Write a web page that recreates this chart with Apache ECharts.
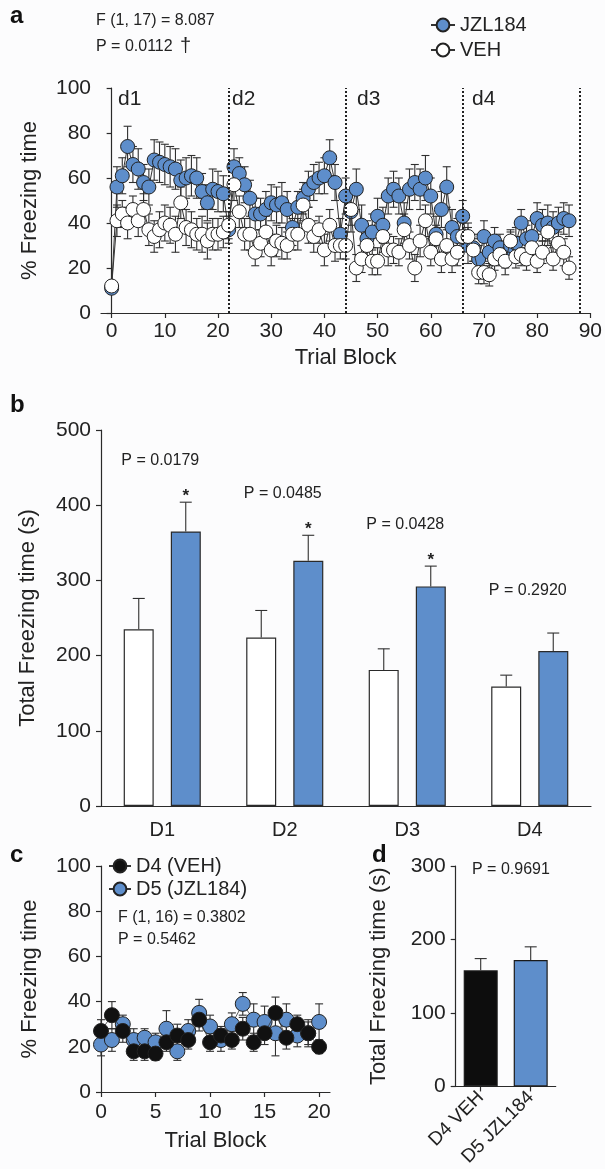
<!DOCTYPE html>
<html><head><meta charset="utf-8">
<script src="https://cdn.jsdelivr.net/npm/echarts@6/dist/echarts.min.js"></script>
<style>html,body{margin:0;padding:0;background:#fcfcfd}#chart{width:605px;height:1169px}</style>
</head><body><div id="chart"></div>
<script>
// ---------- Panel a: % freezing per trial block (t = 0..86) ----------
const aTicks = [0,10,20,30,40,50,60,70,80,90];
const dayBounds = [22,44,66,88];
const jzl = [
  11,
  56,61,74,66,64,58,56,68,67,66,65,64,59,60,61,60,54,49,55,54,53,
  37,
  65,62,57,51,44,44,46,49,48,49,46,38,47,51,55,58,60,61,69,58,35,
  52,45,55,39,33,36,43,39,52,55,52,40,55,58,55,60,52,35,46,56,38,34,
  43,30,29,24,34,27,32,29,26,30,31,40,33,34,42,39,40,38,40,42,41
];
const jzlErr = [
  2,
  9,8,9,8,9,8,8,9,9,9,9,9,9,9,9,9,8,8,9,9,8,
  6,
  8,7,8,8,7,7,8,8,8,9,8,8,7,7,8,8,7,8,8,8,7,
  8,9,9,9,8,8,8,8,8,8,8,9,9,8,9,10,8,8,8,9,8,8,
  7,8,6,6,7,6,6,6,6,6,7,6,6,7,7,7,8,7,7,7,7
];
const veh = [
  12,
  41,44,40,46,41,46,37,34,37,40,39,35,49,38,37,35,35,32,35,35,36,
  39,
  57,45,35,35,27,31,36,28,32,31,30,35,35,48,39,34,37,28,39,30,30,
  30,46,20,24,30,23,23,34,28,28,27,37,30,20,32,41,27,33,24,30,24,27,
  34,34,28,18,18,17,24,26,23,32,25,26,24,29,23,27,36,24,31,27,20
];
const vehErr = [
  2,
  7,6,7,6,7,7,7,7,8,8,8,8,7,8,8,7,8,8,7,7,7,
  6,
  7,7,7,7,6,6,7,7,7,7,6,7,7,7,8,7,6,7,7,7,6,
  6,7,6,6,7,6,6,7,7,6,6,7,6,6,7,7,6,6,6,7,6,6,
  6,6,5,5,5,5,5,5,6,5,5,5,5,6,5,5,6,5,5,6,5
];
const dayLabels = ['d1','d2','d3','d4'];

// ---------- Panel b: total freezing per day ----------
const days = ['D1','D2','D3','D4'];
const vehTotal = [235,224,181,159];
const vehTotalErr = [41,36,28,15];
const jzlTotal = [365,326,292,206];
const jzlTotalErr = [39,34,27,24];
const pLabels = ['P = 0.0179','P = 0.0485','P = 0.0428','P = 0.2920'];
const significant = [true,true,true,false];

// ---------- Panel c: D4 (VEH) vs D5 (JZL184) ----------
const cTicks = [0,5,10,15,20];
const d4veh = [27,34,27,18,18,17,22,25,23,32,22,25,23,28,22,26,35,24,30,26,20];
const d4vehErr = [5,6,5,4,4,3,4,5,4,5,4,4,4,5,4,5,7,5,4,5,3];
const d5jzl = [21,23,30,23,24,22,28,18,27,35,29,23,30,39,32,31,26,32,25,26,31];
const d5jzlErr = [5,5,4,5,4,4,8,4,5,6,5,5,5,5,7,7,10,7,5,6,8];

// ---------- Panel d ----------
const dCats = ['D4 VEH','D5 JZL184'];
const dTotal = [158,172];
const dTotalErr = [16,18];

// ---------- styling ----------
const FONT = '"Liberation Sans", Arial, Helvetica, sans-serif';
const BLUE = '#5e8ecb';
const INK = '#2a2a2a';
const TICK_FS = 21, NAME_FS = 22;

const chart = echarts.init(document.getElementById('chart'), null, {renderer:'canvas'});

function axisLineCfg(){ return {show:true, lineStyle:{color:INK, width:1.2}}; }
function tickCfg(extra){ return Object.assign({show:true, length:5, lineStyle:{color:INK, width:1.2}}, extra||{}); }
function labelCfg(extra){ return Object.assign({color:'#222', fontSize:TICK_FS, fontFamily:FONT}, extra||{}); }
function nameCfg(){ return {color:'#222', fontSize:NAME_FS, fontFamily:FONT}; }

function errRender(capHalf, both, dx){
  return function(params, api){
    const x = api.value(0), y = api.value(1), e = api.value(2);
    const p = api.coord([x, y]);
    const hi = api.coord([x, y + e]);
    const lo = api.coord([x, y - e]);
    const cx = p[0] + (dx || 0);
    const style = {stroke:'#303030', lineWidth:1.1};
    const ch = [
      {type:'line', shape:{x1:cx, y1: both ? lo[1] : p[1], x2:cx, y2:hi[1]}, style},
      {type:'line', shape:{x1:cx-capHalf, y1:hi[1], x2:cx+capHalf, y2:hi[1]}, style}
    ];
    if (both) ch.push({type:'line', shape:{x1:cx-capHalf, y1:lo[1], x2:cx+capHalf, y2:lo[1]}, style});
    return {type:'group', children: ch};
  };
}

const pointStyle = (fill) => ({color:fill, borderColor:'#222', borderWidth:1});
const lineStyle = {color:'#333', width:1};
const BAR_OFF = 23.5;

const option = {
  backgroundColor:'#fcfcfd',
  animation:false,
  textStyle:{fontFamily:FONT},
  grid:[
    {left:101, top:88, width:490.5, height:225},
    {left:101, top:430, width:490, height:376},
    {left:101, top:866, width:229, height:226},
    {left:455.7, top:866, width:100, height:226}
  ],
  xAxis:[
    {gridIndex:0, type:'value', min:-2, max:90,
     axisLine:axisLineCfg(), splitLine:{show:false},
     axisTick:tickCfg({customValues:aTicks}),
     axisLabel:labelCfg({customValues:aTicks, margin:8}),
     name:'Trial Block', nameLocation:'middle', nameGap:34, nameTextStyle:nameCfg()},
    {gridIndex:1, type:'category', data:days,
     axisLine:axisLineCfg(), axisTick:{show:false},
     axisLabel:labelCfg({margin:14, fontSize:20})},
    {gridIndex:2, type:'value', min:0, max:21,
     axisLine:axisLineCfg(), splitLine:{show:false},
     axisTick:tickCfg({customValues:cTicks}),
     axisLabel:labelCfg({customValues:cTicks, margin:10}),
     name:'Trial Block', nameLocation:'middle', nameGap:38, nameTextStyle:nameCfg()},
    {gridIndex:3, type:'category', data:dCats,
     axisLine:axisLineCfg(), axisTick:tickCfg({alignWithLabel:true}),
     axisLabel:labelCfg({rotate:45, margin:8, fontSize:19})}
  ],
  yAxis:[
    {gridIndex:0, type:'value', min:0, max:100, interval:20,
     axisLine:axisLineCfg(), axisTick:tickCfg(), splitLine:{show:false},
     axisLabel:labelCfg({margin:10}),
     name:'% Freezing time', nameLocation:'middle', nameGap:60, nameTextStyle:nameCfg()},
    {gridIndex:1, type:'value', min:0, max:500, interval:100,
     axisLine:axisLineCfg(), axisTick:tickCfg(), splitLine:{show:false},
     axisLabel:labelCfg({margin:10}),
     name:'Total Freezing time (s)', nameLocation:'middle', nameGap:62, nameTextStyle:nameCfg()},
    {gridIndex:2, type:'value', min:0, max:100, interval:20,
     axisLine:axisLineCfg(), axisTick:tickCfg(), splitLine:{show:false},
     axisLabel:labelCfg({margin:10}),
     name:'% Freezing time', nameLocation:'middle', nameGap:60, nameTextStyle:nameCfg()},
    {gridIndex:3, type:'value', min:0, max:300, interval:100,
     axisLine:axisLineCfg(), axisTick:tickCfg(), splitLine:{show:false},
     axisLabel:labelCfg({margin:10}),
     name:'Total Freezing time (s)', nameLocation:'middle', nameGap:66, nameTextStyle:nameCfg()}
  ],
  legend:[
    {data:['JZL184'], left:425, top:10, itemWidth:24, itemHeight:16, itemGap:0,
     textStyle:{fontSize:20, color:'#222', fontFamily:FONT}},
    {data:['VEH'], left:425, top:35, itemWidth:24, itemHeight:16, itemGap:0,
     textStyle:{fontSize:20, color:'#222', fontFamily:FONT}},
    {data:['D4 (VEH)'], left:103, top:851, itemWidth:22, itemHeight:16, itemGap:0,
     textStyle:{fontSize:20, color:'#222', fontFamily:FONT}},
    {data:['D5 (JZL184)'], left:103, top:874, itemWidth:22, itemHeight:16, itemGap:0,
     textStyle:{fontSize:20, color:'#222', fontFamily:FONT}}
  ],
  graphic:[
    {type:'text', left:10, top:4, style:{text:'a', font:'bold 24px '+FONT, fill:'#111'}},
    {type:'text', left:10, top:393, style:{text:'b', font:'bold 24px '+FONT, fill:'#111'}},
    {type:'text', left:10, top:843, style:{text:'c', font:'bold 24px '+FONT, fill:'#111'}},
    {type:'text', left:372, top:843, style:{text:'d', font:'bold 24px '+FONT, fill:'#111'}},
    {type:'text', left:96, top:13, style:{text:'F (1, 17) = 8.087', font:'16px '+FONT, fill:'#222'}},
    {type:'text', left:96, top:39, style:{text:'P = 0.0112', font:'16px '+FONT, fill:'#222'}},
    {type:'text', left:180, top:36, style:{text:'\u2020', font:'20px '+FONT, fill:'#222'}},
    {type:'text', left:118, top:89, style:{text:dayLabels[0], font:'21px '+FONT, fill:'#222'}},
    {type:'text', left:232, top:89, style:{text:dayLabels[1], font:'21px '+FONT, fill:'#222'}},
    {type:'text', left:357, top:89, style:{text:dayLabels[2], font:'21px '+FONT, fill:'#222'}},
    {type:'text', left:472, top:89, style:{text:dayLabels[3], font:'21px '+FONT, fill:'#222'}},
    {type:'text', left:118, top:910, style:{text:'F (1, 16) = 0.3802', font:'16px '+FONT, fill:'#222'}},
    {type:'text', left:118, top:932, style:{text:'P = 0.5462', font:'16px '+FONT, fill:'#222'}},
    {type:'text', left:472, top:862, style:{text:'P = 0.9691', font:'16px '+FONT, fill:'#222'}}
  ],
  series:[
    // ----- panel a -----
    {type:'custom', name:'errJ', xAxisIndex:0, yAxisIndex:0, z:1,
     renderItem:errRender(4, true), data:jzl.map((v,i)=>[i, v, jzlErr[i]])},
    {type:'custom', name:'errV', xAxisIndex:0, yAxisIndex:0, z:1,
     renderItem:errRender(4, true), data:veh.map((v,i)=>[i, v, vehErr[i]])},
    {type:'line', name:'JZL184', xAxisIndex:0, yAxisIndex:0, z:3,
     data:jzl.map((v,i)=>[i, v]), symbol:'circle', symbolSize:14,
     itemStyle:pointStyle(BLUE), lineStyle:lineStyle,
     markLine:{silent:true, symbol:['none','none'], label:{show:false},
       lineStyle:{type:'dotted', color:'#222', width:2},
       data:dayBounds.map(b=>({xAxis:b}))}},
    {type:'line', name:'VEH', xAxisIndex:0, yAxisIndex:0, z:4,
     data:veh.map((v,i)=>[i, v]), symbol:'circle', symbolSize:14,
     itemStyle:pointStyle('#ffffff'), lineStyle:lineStyle},

    // ----- panel b -----
    {type:'bar', name:'VEH total', xAxisIndex:1, yAxisIndex:1, data:vehTotal,
     barWidth:30, barGap:'57%', itemStyle:{color:'#ffffff', borderColor:'#2a2a2a', borderWidth:1.2}},
    {type:'bar', name:'JZL total', xAxisIndex:1, yAxisIndex:1, data:jzlTotal,
     barWidth:30, barGap:'57%', itemStyle:{color:BLUE, borderColor:'#2a2a2a', borderWidth:1.2}},
    {type:'custom', name:'errVehTotal', xAxisIndex:1, yAxisIndex:1, z:3,
     renderItem:errRender(6, false, -BAR_OFF), data:vehTotal.map((v,i)=>[i, v, vehTotalErr[i]])},
    {type:'custom', name:'errJzlTotal', xAxisIndex:1, yAxisIndex:1, z:3,
     renderItem:errRender(6, false, BAR_OFF), data:jzlTotal.map((v,i)=>[i, v, jzlTotalErr[i]])},
    {type:'custom', name:'annotB', xAxisIndex:1, yAxisIndex:1, z:4,
     data:jzlTotal.map((v,i)=>[i, v + jzlTotalErr[i]]),
     renderItem:function(params, api){
       const i = api.value(0);
       const p = api.coord([i, api.value(1)]);
       const ch = [{type:'text', style:{text:pLabels[i], x:p[0]-2, y:p[1]-42,
                    align:'center', verticalAlign:'middle', font:'16px '+FONT, fill:'#222'}}];
       if (significant[i]) ch.push({type:'text', style:{text:'*', x:p[0]+BAR_OFF, y:p[1]-6,
                    align:'center', verticalAlign:'middle', font:'bold 17px '+FONT, fill:'#222'}});
       return {type:'group', children:ch};
     }},

    // ----- panel c -----
    {type:'custom', name:'errD5', xAxisIndex:2, yAxisIndex:2, z:1,
     renderItem:errRender(4, true), data:d5jzl.map((v,i)=>[i, v, d5jzlErr[i]])},
    {type:'custom', name:'errD4', xAxisIndex:2, yAxisIndex:2, z:1,
     renderItem:errRender(4, true), data:d4veh.map((v,i)=>[i, v, d4vehErr[i]])},
    {type:'line', name:'D5 (JZL184)', xAxisIndex:2, yAxisIndex:2, z:3,
     data:d5jzl.map((v,i)=>[i, v]), symbol:'circle', symbolSize:15,
     itemStyle:pointStyle(BLUE), lineStyle:{color:'#333', width:0.8}},
    {type:'line', name:'D4 (VEH)', xAxisIndex:2, yAxisIndex:2, z:4,
     data:d4veh.map((v,i)=>[i, v]), symbol:'circle', symbolSize:15,
     itemStyle:pointStyle('#111111'), lineStyle:{color:'#333', width:0.8}},

    // ----- panel d -----
    {type:'bar', name:'D4D5 total', xAxisIndex:3, yAxisIndex:3, barWidth:34,
     data:dTotal.map((v,i)=>({value:v, itemStyle:{color: i===0 ? '#0d0d0d' : BLUE}})),
     itemStyle:{borderColor:'#1a1a1a', borderWidth:1.2}},
    {type:'custom', name:'errDTotal', xAxisIndex:3, yAxisIndex:3, z:3,
     renderItem:errRender(6, false, 0), data:dTotal.map((v,i)=>[i, v, dTotalErr[i]])}
  ]
};
chart.setOption(option);
</script>
</body></html>
